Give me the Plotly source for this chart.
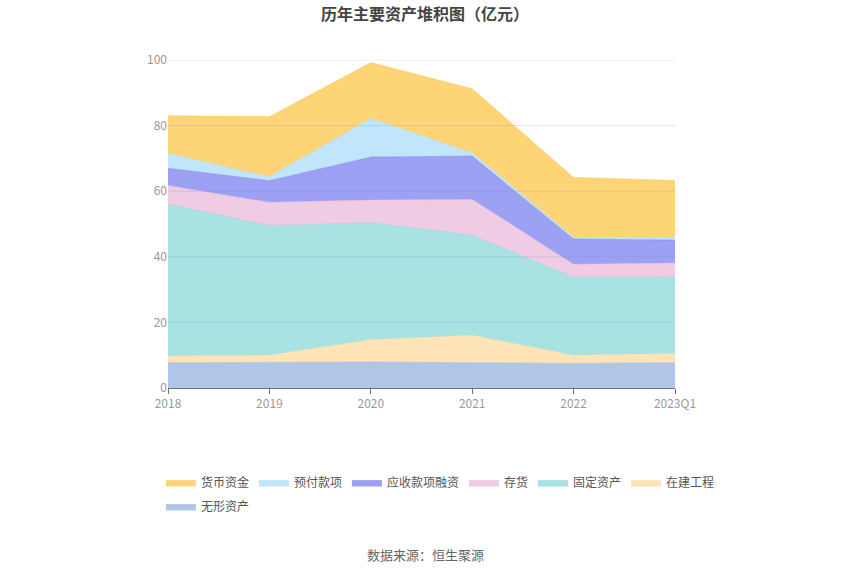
import plotly.graph_objects as go

categories = ["2018", "2019", "2020", "2021", "2022", "2023Q1"]

# series values (亿元), bottom to top of stack
wuxing = [7.7, 7.9, 7.9, 7.7, 7.5, 7.7]          # 无形资产
zaijian = [2.05, 2.05, 6.8, 8.4, 2.45, 2.8]      # 在建工程
guding = [46.25, 39.55, 35.7, 30.5, 23.75, 23.3]  # 固定资产
cunhuo = [5.7, 7.1, 6.9, 10.9, 4.0, 4.3]         # 存货
yingshou = [5.3, 6.6, 13.1, 13.2, 7.7, 7.0]      # 应收款项融资
yufu = [4.6, 1.2, 11.8, 1.0, 0.5, 0.7]           # 预付款项
huobi = [11.4, 18.3, 17.0, 19.5, 18.3, 17.5]     # 货币资金

yticks = [0, 20, 40, 60, 80, 100]

series = [
    ("无形资产", wuxing, (142, 174, 222)),
    ("在建工程", zaijian, (254, 216, 151)),
    ("固定资产", guding, (131, 214, 215)),
    ("存货", cunhuo, (232, 181, 216)),
    ("应收款项融资", yingshou, (116, 121, 238)),
    ("预付款项", yufu, (166, 220, 250)),
    ("货币资金", huobi, (253, 195, 60)),
]
legend_rank = {"货币资金": 1, "预付款项": 2, "应收款项融资": 3, "存货": 4,
               "固定资产": 5, "在建工程": 6, "无形资产": 7}

fig = go.Figure()
for name, vals, (r, g, b) in series:
    fig.add_trace(go.Scatter(
        x=categories, y=vals, name=name, mode="lines",
        stackgroup="one",
        line=dict(width=0.6, color=f"rgba({r},{g},{b},0.75)"),
        fillcolor=f"rgba({r},{g},{b},0.7)",
        legendrank=legend_rank[name],
        legend="legend2" if name == "无形资产" else "legend",
    ))

# grid lines drawn above the translucent areas, as in the reference
for t in yticks[1:]:
    fig.add_shape(type="line", xref="paper", x0=0, x1=1, yref="y", y0=t, y1=t,
                  line=dict(color="rgba(110,130,185,0.2)", width=1), layer="above")

W, H = 850, 575
L, R, T, B = 168, 175, 60, 187
PH = H - T - B  # plot height in px

font_family = "Noto Sans CJK SC, Microsoft YaHei, sans-serif"
leg_common = dict(orientation="h", x=-0.014, xanchor="left", yanchor="top",
                  font=dict(size=12, color="#555"), traceorder="normal",
                  itemwidth=30, tracegroupgap=0, bgcolor="rgba(0,0,0,0)")
fig.update_layout(
    width=W, height=H,
    margin=dict(l=L, r=R, t=T, b=B),
    paper_bgcolor="white", plot_bgcolor="white",
    font=dict(family=font_family, size=12, color="#999"),
    title=dict(text="<b>历年主要资产堆积图（亿元）</b>", x=0.5, xanchor="center",
               y=1 - 14 / H, yanchor="middle",
               font=dict(size=16, color="#444", family=font_family)),
    showlegend=True,
    legend=dict(y=-(468 - (H - B)) / PH, **leg_common),
    legend2=dict(y=-(492 - (H - B)) / PH, **leg_common),
    xaxis=dict(type="category", range=[0, 5], showgrid=False,
               showline=True, linecolor="#6e7079", linewidth=1,
               ticks="outside", ticklen=5, tickcolor="#6e7079",
               tickfont=dict(size=12, color="#999"), zeroline=False,
               layer="above traces"),
    yaxis=dict(range=[0, 100], tickvals=yticks, showgrid=False,
               zeroline=False, showline=False, ticks="",
               tickfont=dict(size=12, color="#999")),
    annotations=[dict(text="数据来源：恒生聚源", xref="paper", yref="paper",
                      x=(425 - L) / (W - L - R), xanchor="center",
                      y=-(554 - (H - B)) / PH, yanchor="middle", showarrow=False,
                      font=dict(size=13, color="#666"))],
)

fig.write_html("out.html", config={"displayModeBar": False},
               post_script="document.body.style.margin='0';document.body.style.overflow='hidden';")
